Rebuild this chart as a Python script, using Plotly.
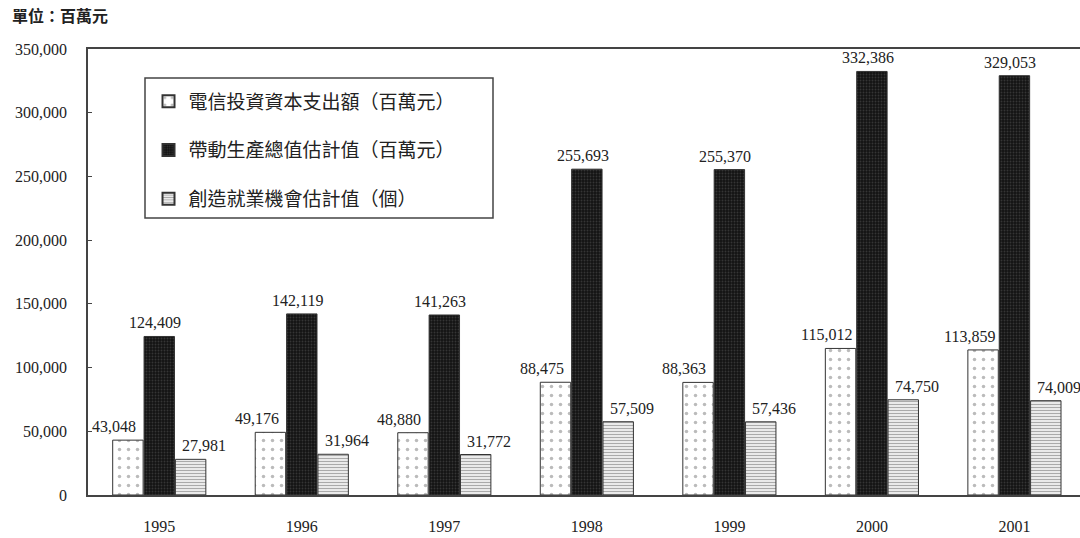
import plotly.graph_objects as go

years = ["1995", "1996", "1997", "1998", "1999", "2000", "2001"]
capex = [43048, 49176, 48880, 88475, 88363, 115012, 113859]
output_value = [124409, 142119, 141263, 255693, 255370, 332386, 329053]
jobs = [27981, 31964, 31772, 57509, 57436, 74750, 74009]

names = [
    "電信投資資本支出額（百萬元）",
    "帶動生產總值估計值（百萬元）",
    "創造就業機會估計值（個）",
]

serif = "Liberation Serif, Times New Roman, serif"
cjk = "Noto Sans CJK TC, Noto Sans CJK SC, sans-serif"
ink = "#222222"

styles = [
    dict(color="white", pattern=dict(shape=".", fgcolor="#777777", size=9, solidity=0.12)),
    dict(color="#141414", pattern=dict(shape=".", fgcolor="#555555", size=3, solidity=0.3)),
    dict(color="white", pattern=dict(shape="-", fgcolor="#555555", size=3, solidity=0.5)),
]
# horizontal pixel shift of each series' value label from the category centre
label_shift = [-45, -4, 45]

fig = go.Figure()
annotations = []
for i, (name, vals) in enumerate(zip(names, [capex, output_value, jobs])):
    fig.add_trace(go.Bar(
        x=years, y=vals, name=name, legendgroup=str(i),
        marker=dict(color=styles[i]["color"], pattern=styles[i]["pattern"],
                    line=dict(color="#333333", width=1)),
    ))
    for j, v in enumerate(vals):
        # category axis: annotation x is the category index
        annotations.append(dict(
            x=j, y=v, xref="x", yref="y", text=f"{v:,}", showarrow=False,
            xanchor="center", yanchor="bottom", xshift=label_shift[i], yshift=3,
            font=dict(family=serif, size=16, color=ink),
        ))

annotations.append(dict(
    text="<b>單位：百萬元</b>", xref="paper", yref="paper",
    x=-78 / 992, y=1.045, xanchor="left", yanchor="bottom", showarrow=False,
    font=dict(family=cjk, size=16, color=ink),
))

fig.update_layout(
    width=1080, height=538,
    margin=dict(l=88, r=0, t=49, b=43),
    paper_bgcolor="white", plot_bgcolor="white",
    barmode="group", bargap=0.34, bargroupgap=0.03,
    font=dict(family=serif, size=16, color=ink),
    legend=dict(
        x=0.061, y=0.925, xanchor="left", yanchor="top",
        borderwidth=0, bgcolor="rgba(0,0,0,0)",
        font=dict(family=cjk, size=19, color=ink),
        tracegroupgap=21, itemsizing="constant",
    ),
    shapes=[dict(
        type="rect", xref="paper", yref="paper",
        x0=(145 - 88) / 992, x1=(493 - 88) / 992,
        y0=(495 - 218) / 446, y1=(495 - 78) / 446,
        line=dict(color="#444444", width=1.5), fillcolor="rgba(0,0,0,0)",
        layer="above",
    )],
    annotations=annotations,
)

fig.update_xaxes(
    type="category",
    range=[-0.5, 6.46], showline=True, linecolor="#444444", linewidth=1.5,
    mirror=True, ticks="", ticklabelstandoff=16,
    tickfont=dict(family=serif, size=16, color=ink), showgrid=False,
)
fig.update_yaxes(
    range=[0, 350000], dtick=50000, tickformat=",", showline=True,
    linecolor="#444444", linewidth=1.5, ticks="inside", ticklen=4,
    tickcolor="#444444", showgrid=False, zeroline=False,
    tickfont=dict(family=serif, size=16, color=ink), ticklabelstandoff=16,
)

fig.write_html("out.html")
